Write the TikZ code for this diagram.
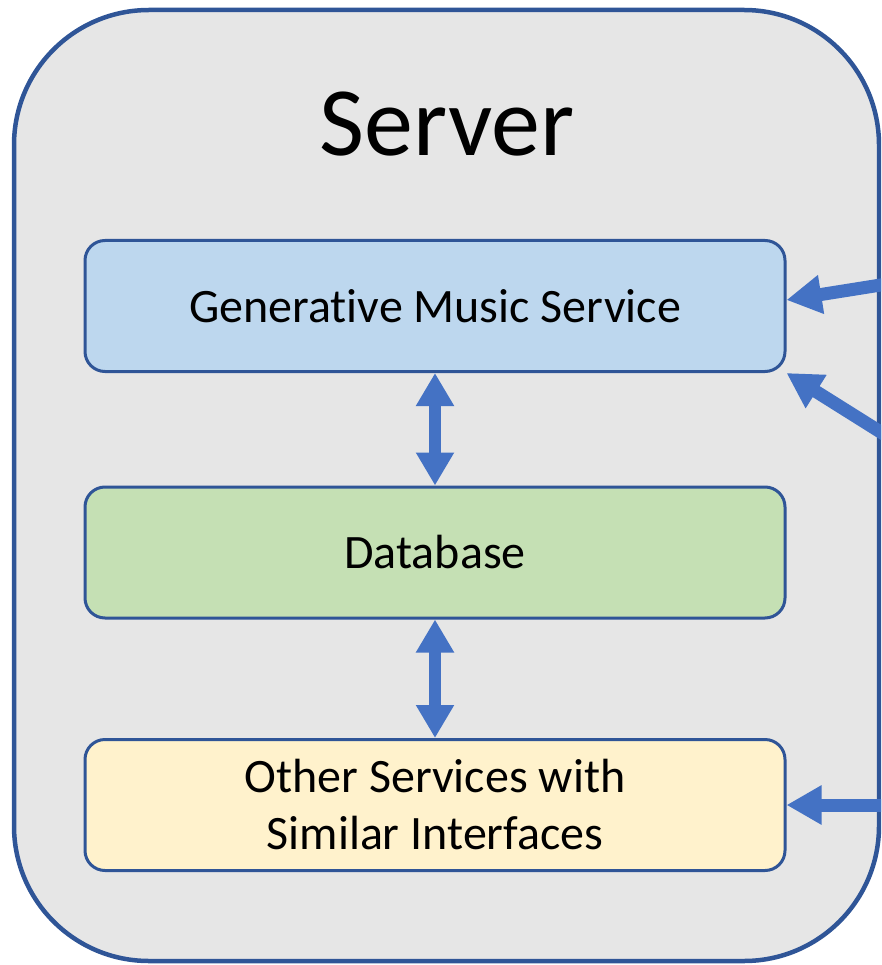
\documentclass[tikz,border=0pt]{standalone}
\usepackage{fontspec}
\setmainfont{Carlito}[Ligatures={NoCommon}]
\usetikzlibrary{arrows.meta}
\definecolor{outerfill}{HTML}{E6E6E6}
\definecolor{edge}{HTML}{2F5597}
\definecolor{arr}{HTML}{4472C4}
\definecolor{bluefill}{HTML}{BDD7EE}
\definecolor{greenfill}{HTML}{C5E0B4}
\definecolor{yellowfill}{HTML}{FFF2CC}
\tikzset{
  outerbox/.style={draw=edge, fill=outerfill, line width=4.5pt, rounded corners=135pt,
    minimum width=865pt, minimum height=951pt, inner sep=0pt},
  svcbox/.style={draw=edge, line width=3pt, rounded corners=20pt,
    minimum width=700pt, minimum height=131pt, inner sep=0pt,
    font=\fontsize{48}{57}\selectfont, align=center},
  bigarrow/.style={draw=arr, line width=13pt, -{Triangle[length=35pt,width=37pt]}},
  dblarrow/.style={draw=arr, line width=12pt, {Triangle[length=33pt,width=36pt]}-{Triangle[length=33pt,width=36pt]}},
}
\begin{document}
\begin{tikzpicture}[x=1pt,y=-1pt]
\useasboundingbox (0,0) rectangle (881,965);
\clip (0,0) rectangle (881,965);
\node[outerbox] (server) at (446.5,485.5) {};
\node[font=\fontsize{98}{110}\selectfont, anchor=base] (title) at (447,156) {Server};
\node[svcbox, fill=bluefill] (gms) at (435,306) {Generative Music Service};
\node[svcbox, fill=greenfill] (db) at (435,552.5) {Database};
\node[svcbox, fill=yellowfill] (osi) at (435,805) {Other Services with\\Similar Interfaces};
\draw[dblarrow] (gms.south) -- (db.north);
\draw[dblarrow] (db.south) -- (osi.north);
\coordinate (in1) at (1000,266);
\coordinate (in2) at (1000,507);
\coordinate (in3) at (1000,805);
\draw[bigarrow] (in1) -- ([yshift=6pt]gms.east);
\draw[bigarrow] (in2) -- (gms.south east);
\draw[bigarrow] (in3) -- (osi.east);
\end{tikzpicture}
\end{document}
